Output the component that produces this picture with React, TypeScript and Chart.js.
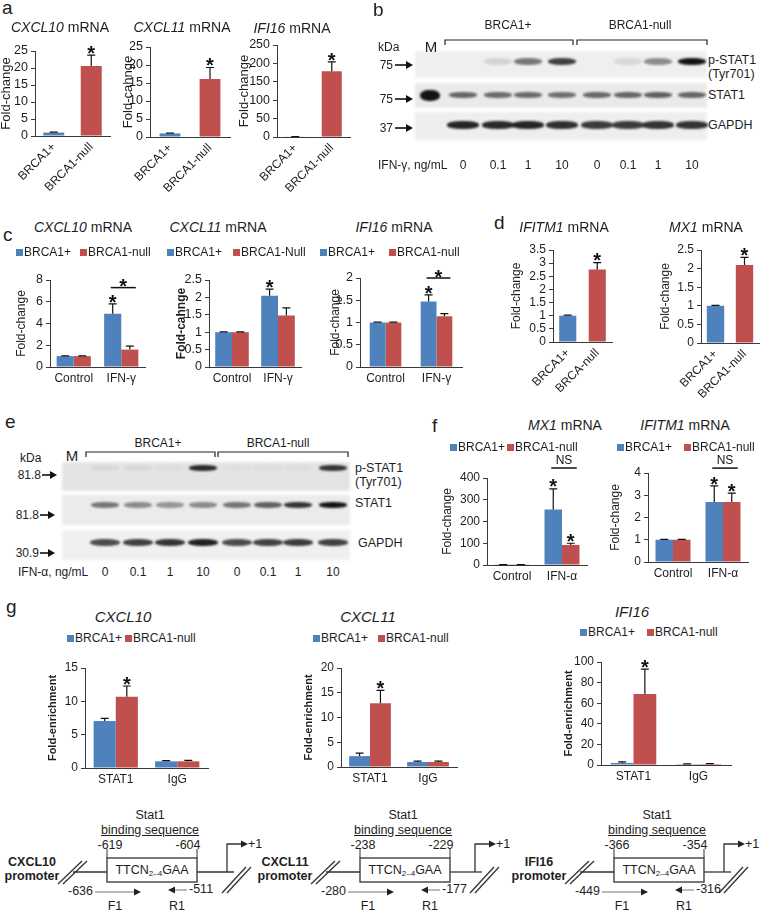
import React, { useEffect, useRef } from 'react';
import Chart from 'chart.js/auto';

const FONT = '"Liberation Sans", Arial, Helvetica, sans-serif';
const BLUE = '#4F81BD';
const RED = '#C0504D';
const TXT = '#1e1e1e';
const AX = '#3a3a3a';

// ---------------- data ----------------
const groupsA = ['BRCA1+', 'BRCA1-null'];
const groupsD1 = ['BRCA1+', 'BRCA-null'];
const treatGamma = ['Control', 'IFN-γ'];
const treatAlpha = ['Control', 'IFN-α'];
const chipGroups = ['STAT1', 'IgG'];

// y-axis tick labels
const ticks25 = [0, 5, 10, 15, 20, 25];
const ticks250 = [0, 50, 100, 150, 200, 250];
const ticks8 = [0, 2, 4, 6, 8];
const ticks2p5 = [0, 0.5, 1, 1.5, 2, 2.5];
const ticks2 = [0, 0.5, 1, 1.5, 2];
const ticks3p5 = [0, 0.5, 1, 1.5, 2, 2.5, 3, 3.5];
const ticks400 = [0, 100, 200, 300, 400];
const ticks4 = [0, 1, 2, 3, 4];
const ticks15 = [0, 5, 10, 15];
const ticks20 = [0, 5, 10, 15, 20];
const ticks100 = [0, 20, 40, 60, 80, 100];

const a1Vals = [1.0, 20.6];
const a1Err = [1.15, 23.8];
const a2Vals = [1.0, 16.1];
const a2Err = [1.1, 19.3];
const a3Vals = [1.0, 179];
const a3Err = [1.3, 204];

const c1Plus = [1.0, 4.9];
const c1PlusErr = [1.03, 5.8];
const c1Null = [1.0, 1.6];
const c1NullErr = [1.02, 1.92];
const c2Plus = [1.0, 2.05];
const c2PlusErr = [1.01, 2.24];
const c2Null = [1.0, 1.48];
const c2NullErr = [1.01, 1.7];
const c3Plus = [1.0, 1.47];
const c3PlusErr = [1.01, 1.62];
const c3Null = [1.0, 1.14];
const c3NullErr = [1.01, 1.2];

const d1Vals = [1.0, 2.76];
const d1Err = [1.02, 3.02];
const d2Vals = [1.0, 2.1];
const d2Err = [1.01, 2.3];

const f1Plus = [1, 255];
const f1PlusErr = [1.5, 350];
const f1Null = [1, 92];
const f1NullErr = [1.5, 100];
const f2Plus = [1.0, 2.7];
const f2PlusErr = [1.02, 3.42];
const f2Null = [1.0, 2.7];
const f2NullErr = [1.02, 3.1];

const g1Plus = [7.05, 1.0];
const g1PlusErr = [7.45, 1.12];
const g1Null = [10.7, 1.0];
const g1NullErr = [12.3, 1.15];
const g2Plus = [2.2, 1.0];
const g2PlusErr = [2.8, 1.2];
const g2Null = [12.9, 1.0];
const g2NullErr = [15.5, 1.2];
const g3Plus = [2.0, 0.8];
const g3PlusErr = [3.0, 1.1];
const g3Null = [69, 1.0];
const g3NullErr = [93, 1.4];

// western blot lane intensities (M lane first)
const doseLabels = ['0', '0.1', '1', '10', '0', '0.1', '1', '10'];
const blotBLanes = [430, 463, 498, 528, 562, 597, 628, 658, 692];
const blotBpSTAT1 = [0, 0, 0.12, 0.55, 0.8, 0, 0.1, 0.45, 1];
const blotBSTAT1 = [1, 0.62, 0.6, 0.6, 0.58, 0.6, 0.62, 0.65, 0.62];
const blotBGAPDH = [0, 0.92, 0.9, 0.92, 0.88, 0.82, 0.82, 0.86, 0.86];
const blotELanes = [72, 105, 138, 170, 203, 237, 268, 298, 333];
const blotEpSTAT1 = [0, 0.05, 0.05, 0.03, 0.9, 0.02, 0.03, 0.03, 0.85];
const blotESTAT1 = [0, 0.55, 0.45, 0.4, 0.45, 0.55, 0.65, 0.85, 1];
const blotEGAPDH = [0, 0.75, 0.8, 0.85, 0.95, 0.75, 0.8, 0.82, 0.8];

// promoter diagrams
const promNames = ['CXCL10', 'CXCL11', 'IFI16'];
const promShift = [0, 253, 507];
const promRightShift = [0, 248, 497];
const bindStart = ['-619', '-238', '-366'];
const bindEnd = ['-604', '-229', '-354'];
const f1Pos = ['-636', '-280', '-449'];
const r1Pos = ['-511', '-177', '-316'];

// ---------------- chart component ----------------
type DS = { label: string; data: number[]; err: number[]; color: any; stars?: boolean[] };
type Spec = {
  labels: string[];
  datasets: DS[];
  yTicks: number[];
  plot: number[];
  top: number;
  bottom: number;
  right: number;
  yTitle: string;
  yTitleX: number;
  yTitleSize: number;
  yTitleBold?: boolean;
  tickSize: number;
  xSize: number;
  rot?: boolean;
  barPct: number;
  catPct: number;
  brackets?: { cat: number; y: number; text: string }[];
};

const fmtTick = (v: any) => `${Math.round(Number(v) * 100) / 100}`;

function BarChart({ spec }: { spec: Spec }) {
  const ref = useRef<HTMLCanvasElement>(null);
  const left = Math.round(spec.yTitleX - spec.yTitleSize / 2);
  const W = Math.round(spec.right - left);
  const H = Math.round(spec.bottom - spec.top);
  useEffect(() => {
    const [pl, pt, pr, pb] = spec.plot;
    const yt = spec.yTicks;
    const errPlugin = {
      id: 'errbars',
      afterDatasetsDraw(chart: any) {
        const ctx = chart.ctx;
        const ys = chart.scales.y;
        ctx.save();
        ctx.strokeStyle = '#111';
        ctx.fillStyle = '#111';
        ctx.lineWidth = 1.2;
        const starSize = 20;
        chart.data.datasets.forEach((ds: any, di: number) => {
          const meta = chart.getDatasetMeta(di);
          meta.data.forEach((el: any, i: number) => {
            const e = ds.err ? ds.err[i] : null;
            if (e == null) return;
            const x = el.x;
            const yb = el.y;
            const ytp = ys.getPixelForValue(e);
            ctx.beginPath();
            ctx.moveTo(x, yb);
            ctx.lineTo(x, ytp);
            ctx.moveTo(x - 4, ytp);
            ctx.lineTo(x + 4, ytp);
            ctx.stroke();
            if (ds.stars && ds.stars[i]) {
              ctx.font = `bold ${starSize}px ${FONT}`;
              ctx.textAlign = 'center';
              ctx.textBaseline = 'alphabetic';
              ctx.fillText('*', x, ytp + 0.43 * starSize - 4);
            }
          });
        });
        (spec.brackets || []).forEach((b) => {
          const m0 = chart.getDatasetMeta(0).data[b.cat];
          const m1 = chart.getDatasetMeta(1).data[b.cat];
          const x0 = m0.x - 2;
          const x1 = m1.x + 6;
          const y = ys.getPixelForValue(b.y);
          ctx.lineWidth = 1.5;
          ctx.beginPath();
          ctx.moveTo(x0, y);
          ctx.lineTo(x1, y);
          ctx.stroke();
          ctx.textAlign = 'center';
          ctx.textBaseline = 'alphabetic';
          if (b.text === '*') {
            ctx.font = `bold ${starSize}px ${FONT}`;
            ctx.fillText('*', (x0 + x1) / 2, y + 0.43 * starSize - 3);
          } else {
            ctx.font = `12px ${FONT}`;
            ctx.fillText(b.text, (x0 + x1) / 2, y - 4);
          }
        });
        ctx.restore();
      },
    };
    const chart = new Chart(ref.current as HTMLCanvasElement, {
      type: 'bar',
      data: {
        labels: spec.labels,
        datasets: spec.datasets.map((d) => ({
          label: d.label,
          data: d.data,
          backgroundColor: d.color,
          borderWidth: 0,
          barPercentage: spec.barPct,
          categoryPercentage: spec.catPct,
          err: d.err,
          stars: d.stars,
        })) as any,
      },
      options: {
        responsive: false,
        animation: false,
        devicePixelRatio: 1,
        layout: { padding: { left: 0, top: pt - spec.top, right: spec.right - pr, bottom: 0 } },
        plugins: { legend: { display: false }, tooltip: { enabled: false } },
        scales: {
          x: {
            grid: { display: false, drawTicks: false },
            border: { display: true, color: AX, width: 1 },
            ticks: {
              color: TXT,
              font: { size: spec.xSize, family: FONT },
              autoSkip: false,
              maxRotation: spec.rot ? 45 : 0,
              minRotation: spec.rot ? 45 : 0,
              padding: 4,
            },
            afterFit: (s: any) => {
              s.height = spec.bottom - pb;
            },
          },
          y: {
            min: yt[0],
            max: yt[yt.length - 1],
            afterBuildTicks: (s: any) => {
              s.ticks = yt.map((v) => ({ value: v }));
            },
            ticks: {
              autoSkip: false,
              autoSkipPadding: 0,
              color: TXT,
              font: { size: spec.tickSize, family: FONT, lineHeight: 1 },
              padding: 3,
              callback: fmtTick,
            },
            grid: { display: true, drawOnChartArea: false, drawTicks: true, tickLength: 4, color: AX },
            border: { display: true, color: AX, width: 1 },
            title: {
              display: true,
              text: spec.yTitle,
              color: TXT,
              font: { size: spec.yTitleSize, weight: spec.yTitleBold ? 'bold' : 'normal', lineHeight: 1, family: FONT },
              padding: 0,
            },
            afterFit: (s: any) => {
              s.width = pl - left;
            },
          },
        },
      } as any,
      plugins: [errPlugin],
    });
    return () => chart.destroy();
  }, []);
  return (
    <canvas
      ref={ref}
      width={W}
      height={H}
      style={{ position: 'absolute', left, top: spec.top, width: W, height: H }}
    />
  );
}

// ---------------- chart specs ----------------
const specA1: Spec = {
  labels: groupsA,
  datasets: [{ label: 'Fold-change', data: a1Vals, err: a1Err, color: [BLUE, RED], stars: [false, true] }],
  yTicks: ticks25, plot: [35, 51, 110, 136], top: 33, bottom: 196, right: 121,
  yTitle: 'Fold-change', yTitleX: 6, yTitleSize: 13, tickSize: 12.5, xSize: 12, rot: true, barPct: 0.56, catPct: 1,
};
const specA2: Spec = {
  labels: groupsA,
  datasets: [{ label: 'Fold-cahnge', data: a2Vals, err: a2Err, color: [BLUE, RED], stars: [false, true] }],
  yTicks: ticks25, plot: [150, 47, 230, 137], top: 30, bottom: 196, right: 241,
  yTitle: 'Fold-cahnge', yTitleX: 128, yTitleSize: 13, tickSize: 12.5, xSize: 12, rot: true, barPct: 0.52, catPct: 1,
};
const specA3: Spec = {
  labels: groupsA,
  datasets: [{ label: 'Fold-change', data: a3Vals, err: a3Err, color: [BLUE, RED], stars: [false, true] }],
  yTicks: ticks250, plot: [277, 45, 350, 137], top: 28, bottom: 196, right: 358,
  yTitle: 'Fold-change', yTitleX: 244, yTitleSize: 13, tickSize: 12.5, xSize: 12, rot: true, barPct: 0.55, catPct: 1,
};

const specC1: Spec = {
  labels: treatGamma,
  datasets: [
    { label: 'BRCA1+', data: c1Plus, err: c1PlusErr, color: BLUE, stars: [false, true] },
    { label: 'BRCA1-null', data: c1Null, err: c1NullErr, color: RED },
  ],
  yTicks: ticks8, plot: [50, 280, 145, 367], top: 262, bottom: 392, right: 152,
  yTitle: 'Fold-change', yTitleX: 22, yTitleSize: 12, tickSize: 12.5, xSize: 12, barPct: 1, catPct: 0.72,
  brackets: [{ cat: 1, y: 7.3, text: '*' }],
};
const specC2: Spec = {
  labels: treatGamma,
  datasets: [
    { label: 'BRCA1+', data: c2Plus, err: c2PlusErr, color: BLUE, stars: [false, true] },
    { label: 'BRCA1-Null', data: c2Null, err: c2NullErr, color: RED },
  ],
  yTicks: ticks2p5, plot: [209, 280, 301, 367], top: 262, bottom: 392, right: 308,
  yTitle: 'Fold-cahnge', yTitleBold: true, yTitleX: 182, yTitleSize: 12, tickSize: 12.5, xSize: 12, barPct: 1, catPct: 0.73,
};
const specC3: Spec = {
  labels: treatGamma,
  datasets: [
    { label: 'BRCA1+', data: c3Plus, err: c3PlusErr, color: BLUE, stars: [false, true] },
    { label: 'BRCA1-null', data: c3Null, err: c3NullErr, color: RED },
  ],
  yTicks: ticks2, plot: [360, 278, 462, 367], top: 255, bottom: 392, right: 470,
  yTitle: 'Fold-change', yTitleX: 336, yTitleSize: 12, tickSize: 12.5, xSize: 12, barPct: 1, catPct: 0.62,
  brackets: [{ cat: 1, y: 2.0, text: '*' }],
};

const specD1: Spec = {
  labels: groupsD1,
  datasets: [{ label: 'Fold-change', data: d1Vals, err: d1Err, color: [BLUE, RED], stars: [false, true] }],
  yTicks: ticks3p5, plot: [553, 250, 612, 342], top: 232, bottom: 392, right: 624,
  yTitle: 'Fold-change', yTitleX: 517, yTitleSize: 12, tickSize: 12, xSize: 12, rot: true, barPct: 0.58, catPct: 1,
};
const specD2: Spec = {
  labels: groupsA,
  datasets: [{ label: 'Fold-change', data: d2Vals, err: d2Err, color: [BLUE, RED], stars: [false, true] }],
  yTicks: ticks2p5, plot: [701, 250, 759, 343], top: 232, bottom: 400, right: 760,
  yTitle: 'Fold-change', yTitleX: 666, yTitleSize: 12, tickSize: 12, xSize: 12, rot: true, barPct: 0.6, catPct: 1,
};

const specF1: Spec = {
  labels: treatAlpha,
  datasets: [
    { label: 'BRCA1+', data: f1Plus, err: f1PlusErr, color: BLUE, stars: [false, true] },
    { label: 'BRCA1-null', data: f1Null, err: f1NullErr, color: RED, stars: [false, true] },
  ],
  yTicks: ticks400, plot: [487, 478, 587, 565], top: 440, bottom: 590, right: 597,
  yTitle: 'Fold-change', yTitleX: 448, yTitleSize: 12, tickSize: 12, xSize: 12, barPct: 1, catPct: 0.7,
  brackets: [{ cat: 1, y: 446, text: 'NS' }],
};
const specF2: Spec = {
  labels: treatAlpha,
  datasets: [
    { label: 'BRCA1+', data: f2Plus, err: f2PlusErr, color: BLUE, stars: [false, true] },
    { label: 'BRCA1-null', data: f2Null, err: f2NullErr, color: RED, stars: [false, true] },
  ],
  yTicks: ticks4, plot: [648, 473, 748, 562], top: 440, bottom: 590, right: 758,
  yTitle: 'Fold-change', yTitleX: 616, yTitleSize: 12, tickSize: 12, xSize: 12, barPct: 1, catPct: 0.7,
  brackets: [{ cat: 1, y: 4.22, text: 'NS' }],
};

const specG1: Spec = {
  labels: chipGroups,
  datasets: [
    { label: 'BRCA1+', data: g1Plus, err: g1PlusErr, color: BLUE },
    { label: 'BRCA1-null', data: g1Null, err: g1NullErr, color: RED, stars: [true, false] },
  ],
  yTicks: ticks15, plot: [85, 668, 208, 768], top: 650, bottom: 790, right: 215,
  yTitle: 'Fold-enrichment', yTitleBold: true, yTitleX: 52, yTitleSize: 11, tickSize: 12, xSize: 12, barPct: 1, catPct: 0.72,
};
const specG2: Spec = {
  labels: chipGroups,
  datasets: [
    { label: 'BRCA1+', data: g2Plus, err: g2PlusErr, color: BLUE },
    { label: 'BRCA1-null', data: g2Null, err: g2NullErr, color: RED, stars: [true, false] },
  ],
  yTicks: ticks20, plot: [341, 668, 457, 767], top: 650, bottom: 790, right: 465,
  yTitle: 'Fold-enrichment', yTitleBold: true, yTitleX: 308, yTitleSize: 11, tickSize: 12, xSize: 12, barPct: 1, catPct: 0.72,
};
const specG3: Spec = {
  labels: chipGroups,
  datasets: [
    { label: 'BRCA1+', data: g3Plus, err: g3PlusErr, color: BLUE },
    { label: 'BRCA1-null', data: g3Null, err: g3NullErr, color: RED, stars: [true, false] },
  ],
  yTicks: ticks100, plot: [601, 662, 731, 765], top: 645, bottom: 790, right: 742,
  yTitle: 'Fold-enrichment', yTitleBold: true, yTitleX: 568, yTitleSize: 11, tickSize: 12, xSize: 12, barPct: 1, catPct: 0.7,
};

// ---------------- helpers ----------------
function T({ x, y, s = 12, a = 'l', b, i, u, children }: any) {
  const lh = Math.round(s * 1.2);
  const style: any = {
    position: 'absolute',
    top: y - lh / 2,
    fontSize: s,
    lineHeight: lh + 'px',
    whiteSpace: 'nowrap',
    fontWeight: b ? 'bold' : 'normal',
    fontStyle: i ? 'italic' : 'normal',
    textDecoration: u ? 'underline' : 'none',
    color: TXT,
  };
  if (a === 'l') style.left = x;
  else if (a === 'r') style.right = 760 - x;
  else {
    style.left = x;
    style.transform = 'translateX(-50%)';
  }
  return <div style={style}>{children}</div>;
}

function Legend({ y, xs, spec }: { y: number; xs: number[]; spec: Spec }) {
  return (
    <>
      {spec.datasets.map((d, k) => (
        <React.Fragment key={k}>
          <div style={{ position: 'absolute', left: xs[k], top: y - 3.5, width: 7, height: 7, background: d.color }} />
          <T x={xs[k] + 8} y={y} s={12}>{d.label}</T>
        </React.Fragment>
      ))}
    </>
  );
}

type Row = { x0: number; x1: number; y0: number; y1: number; bg: string; y: number; h: number; w: number; vals: number[]; mW?: number; mH?: number; dx?: number };
function Blot({ lanes, rows }: { lanes: number[]; rows: Row[] }) {
  return (
    <>
      {rows.map((r, ri) => (
        <React.Fragment key={ri}>
          <div style={{ position: 'absolute', left: r.x0, top: r.y0, width: r.x1 - r.x0, height: r.y1 - r.y0, background: r.bg, filter: 'blur(1.5px)' }} />
          {r.vals.map((v, i) => {
            if (v <= 0) return null;
            const w = i === 0 && r.mW ? r.mW : r.w;
            const h = i === 0 && r.mH ? r.mH : r.h;
            return (
              <div
                key={i}
                style={{
                  position: 'absolute',
                  left: lanes[i] - w / 2 + (r.dx || 0),
                  top: r.y - h / 2,
                  width: w,
                  height: h,
                  background: `rgba(20,20,20,${v})`,
                  borderRadius: '45%',
                  filter: 'blur(1.2px)',
                }}
              />
            );
          })}
        </React.Fragment>
      ))}
    </>
  );
}

function Arrow({ x0, x1, y }: { x0: number; x1: number; y: number }) {
  return (
    <>
      <line x1={x0} y1={y} x2={x1 - 6} y2={y} stroke="#111" strokeWidth={1.6} />
      <polygon points={`${x1 - 7},${y - 4} ${x1},${y} ${x1 - 7},${y + 4}`} fill="#111" />
    </>
  );
}

function PromoterLines({ dx, rdx }: { dx: number; rdx: number }) {
  return (
    <g fill="none" stroke="#333" strokeWidth={1.3}>
      <g transform={`translate(${dx},0)`}>
        <line x1={58} y1={884} x2={82} y2={861} />
        <line x1={63} y1={884} x2={87} y2={861} />
        <line x1={73} y1={872} x2={107} y2={872} />
        <rect x={107} y={858} width={90} height={24} fill="#fff" />
        <line x1={107} y1={849} x2={107} y2={858} strokeWidth={1} />
        <line x1={197} y1={849} x2={197} y2={858} strokeWidth={1} />
        <line x1={95} y1={892} x2={135} y2={892} stroke="#777" strokeWidth={1} />
        <polygon points="134,888.5 141,892 134,895.5" fill="#222" stroke="none" />
        <polygon points="168,890 175,886.5 175,893.5" fill="#222" stroke="none" />
        <line x1={175} y1={890} x2={187} y2={890} stroke="#777" strokeWidth={1} />
      </g>
      <line x1={197 + dx} y1={872} x2={234 + rdx} y2={872} />
      <g transform={`translate(${rdx},0)`}>
        <line x1={222} y1={893} x2={246} y2={867} />
        <line x1={227} y1={893} x2={251} y2={867} />
        <polyline points="227,872 227,844 242,844" />
        <polygon points="241,840.5 248,844 241,847.5" fill="#222" stroke="none" />
      </g>
    </g>
  );
}

function PromoterText({ k }: { k: number }) {
  const dx = promShift[k];
  const rdx = promRightShift[k];
  return (
    <>
      <T x={32 + dx} y={862} s={12.5} a="c" b>{promNames[k]}</T>
      <T x={32 + dx} y={876} s={12.5} a="c" b>promoter</T>
      <T x={150 + dx} y={815} s={12.5} a="c">Stat1</T>
      <T x={150 + dx} y={830} s={12.5} a="c" u>binding sequence</T>
      <T x={110 + dx} y={845} s={12.5} a="c">{bindStart[k]}</T>
      <T x={188 + dx} y={845} s={12.5} a="c">{bindEnd[k]}</T>
      <T x={152 + dx} y={870} s={12.5} a="c">
        TTCN<sub style={{ fontSize: 8, verticalAlign: -2 }}>2–4</sub>GAA
      </T>
      <T x={248 + rdx} y={844} s={12.5}>+1</T>
      <T x={93 + dx} y={891} s={12.5} a="r">{f1Pos[k]}</T>
      <T x={115 + dx} y={906} s={12.5} a="c">F1</T>
      <T x={189 + dx} y={889} s={12.5}>{r1Pos[k]}</T>
      <T x={177 + dx} y={906} s={12.5} a="c">R1</T>
    </>
  );
}

export default function App() {
  Chart.defaults.font.family = FONT;
  Chart.defaults.color = TXT;
  const bRows: Row[] = [
    { x0: 415, x1: 707, y0: 51, y1: 78, bg: '#efefef', y: 61, h: 7, w: 28, vals: blotBpSTAT1 },
    { x0: 415, x1: 707, y0: 83, y1: 108, bg: '#eaeaea', y: 95, h: 6, w: 28, vals: blotBSTAT1, mW: 20, mH: 11 },
    { x0: 415, x1: 707, y0: 112, y1: 140, bg: '#eeeeee', y: 125, h: 8, w: 32, vals: blotBGAPDH },
  ];
  const eRows: Row[] = [
    { x0: 62, x1: 350, y0: 462, y1: 491, bg: '#e4e4e4', y: 468, h: 6, w: 28, vals: blotEpSTAT1 },
    { x0: 62, x1: 350, y0: 495, y1: 525, bg: '#ebebeb', y: 505, h: 6, w: 28, vals: blotESTAT1 },
    { x0: 62, x1: 350, y0: 530, y1: 560, bg: '#f0f0f0', y: 542, h: 7, w: 30, vals: blotEGAPDH },
  ];
  return (
    <div style={{ position: 'absolute', left: 0, top: 0, width: 760, height: 911, background: '#fff', overflow: 'hidden', fontFamily: FONT }}>
      <Blot lanes={blotBLanes} rows={bRows} />
      <Blot lanes={blotELanes} rows={eRows} />
      <svg width={760} height={911} style={{ position: 'absolute', left: 0, top: 0 }}>
        <path d="M445,45 L445,40 L573,40 L573,45 M577,45 L577,40 L707,40 L707,45" fill="none" stroke="#222" strokeWidth={1.2} />
        <path d="M86,457 L86,452 L215,452 L215,457 M218,457 L218,452 L348,452 L348,457" fill="none" stroke="#222" strokeWidth={1.2} />
        <Arrow x0={395} x1={413} y={65} />
        <Arrow x0={395} x1={413} y={99} />
        <Arrow x0={395} x1={413} y={128} />
        <Arrow x0={42} x1={57} y={475} />
        <Arrow x0={40} x1={55} y={515} />
        <Arrow x0={40} x1={55} y={553} />
        {promShift.map((dx, k) => (
          <PromoterLines key={k} dx={dx} rdx={promRightShift[k]} />
        ))}
      </svg>

      <BarChart spec={specA1} />
      <BarChart spec={specA2} />
      <BarChart spec={specA3} />
      <BarChart spec={specC1} />
      <BarChart spec={specC2} />
      <BarChart spec={specC3} />
      <BarChart spec={specD1} />
      <BarChart spec={specD2} />
      <BarChart spec={specF1} />
      <BarChart spec={specF2} />
      <BarChart spec={specG1} />
      <BarChart spec={specG2} />
      <BarChart spec={specG3} />

      {/* panel letters */}
      <T x={2} y={7} s={19}>a</T>
      <T x={373} y={9} s={19}>b</T>
      <T x={3} y={234} s={19}>c</T>
      <T x={494} y={222} s={19}>d</T>
      <T x={5} y={421} s={19}>e</T>
      <T x={432} y={425} s={19}>f</T>
      <T x={6} y={606} s={19}>g</T>

      {/* panel a titles */}
      <T x={60} y={27} s={14} a="c"><i>CXCL10</i> mRNA</T>
      <T x={182} y={27} s={14} a="c"><i>CXCL11</i> mRNA</T>
      <T x={292} y={28} s={14} a="c"><i>IFI16</i> mRNA</T>

      {/* panel b blot text */}
      <T x={508} y={25} s={12} a="c">BRCA1+</T>
      <T x={640} y={25} s={12} a="c">BRCA1-null</T>
      <T x={378} y={47} s={12}>kDa</T>
      <T x={431} y={47} s={15} a="c">M</T>
      <T x={393} y={65} s={12} a="r">75</T>
      <T x={393} y={99} s={12} a="r">75</T>
      <T x={393} y={128} s={12} a="r">37</T>
      <T x={708} y={60} s={12.5}>p-STAT1</T>
      <T x={708} y={74} s={12.5}>(Tyr701)</T>
      <T x={708} y={95} s={12.5}>STAT1</T>
      <T x={708} y={125} s={12.5}>GAPDH</T>
      <T x={378} y={165} s={12}>IFN-γ, ng/mL</T>
      {doseLabels.map((d, k) => (
        <T key={'bd' + k} x={blotBLanes[k + 1]} y={165} s={12} a="c">{d}</T>
      ))}

      {/* panel c titles & legends */}
      <T x={83} y={227} s={14} a="c"><i>CXCL10</i> mRNA</T>
      <T x={218} y={227} s={14} a="c"><i>CXCL11</i> mRNA</T>
      <T x={394} y={227} s={14} a="c"><i>IFI16</i> mRNA</T>
      <Legend y={252} xs={[16, 80]} spec={specC1} />
      <Legend y={252} xs={[167, 233]} spec={specC2} />
      <Legend y={252} xs={[320, 389]} spec={specC3} />

      {/* panel d titles */}
      <T x={564} y={227} s={14} a="c"><i>IFITM1</i> mRNA</T>
      <T x={706} y={227} s={14} a="c"><i>MX1</i> mRNA</T>

      {/* panel e blot text */}
      <T x={158} y={443} s={12} a="c">BRCA1+</T>
      <T x={278} y={443} s={12} a="c">BRCA1-null</T>
      <T x={20} y={458} s={12}>kDa</T>
      <T x={72} y={456} s={15} a="c">M</T>
      <T x={41} y={475} s={12} a="r">81.8</T>
      <T x={39} y={515} s={12} a="r">81.8</T>
      <T x={39} y={553} s={12} a="r">30.9</T>
      <T x={355} y={468} s={12.5}>p-STAT1</T>
      <T x={355} y={482} s={12.5}>(Tyr701)</T>
      <T x={355} y={503} s={12.5}>STAT1</T>
      <T x={358} y={543} s={12.5}>GAPDH</T>
      <T x={18} y={572} s={12}>IFN-α, ng/mL</T>
      {doseLabels.map((d, k) => (
        <T key={'ed' + k} x={blotELanes[k + 1]} y={572} s={12} a="c">{d}</T>
      ))}

      {/* panel f titles & legends */}
      <T x={565} y={425} s={14} a="c"><i>MX1</i> mRNA</T>
      <T x={685} y={425} s={14} a="c"><i>IFITM1</i> mRNA</T>
      <Legend y={447} xs={[450, 507]} spec={specF1} />
      <Legend y={447} xs={[617, 684]} spec={specF2} />

      {/* panel g titles & legends */}
      <T x={123} y={617} s={15} a="c" i>CXCL10</T>
      <T x={368} y={617} s={15} a="c" i>CXCL11</T>
      <T x={632} y={612} s={15} a="c" i>IFI16</T>
      <Legend y={638} xs={[67, 125]} spec={specG1} />
      <Legend y={638} xs={[313, 378]} spec={specG2} />
      <Legend y={632} xs={[580, 647]} spec={specG3} />

      {promShift.map((dx, k) => (
        <PromoterText key={'pt' + k} k={k} />
      ))}
    </div>
  );
}
